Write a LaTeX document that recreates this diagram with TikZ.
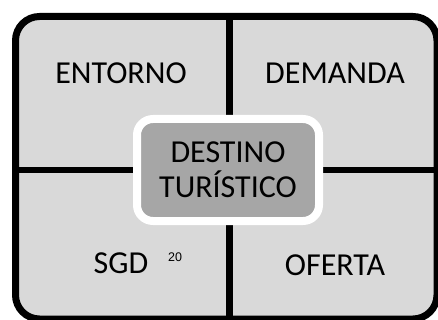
\documentclass[tikz,border=0pt]{standalone}
\usepackage{fontspec}
\setmainfont{Carlito}
\newfontfamily\smallsans{Liberation Sans}
\definecolor{cellgray}{HTML}{D9D9D9}
\definecolor{coregray}{HTML}{A6A6A6}
\tikzset{
  label/.style={font=\fontsize{32}{35}\selectfont, text=black, inner sep=0pt},
}
\begin{document}
\begin{tikzpicture}[x=1pt, y=-1pt]
        \useasboundingbox (0,0) rectangle (438,320);
        \draw[line width=7pt, fill=cellgray, rounded corners=24pt] (15.5,16.5) rectangle (437,319);
        \draw[line width=6.5pt] (229.5,16.5) -- (229.5,319);
        \draw[line width=6.5pt] (15.5,170) -- (437,170);
        \node[label] (entorno) at (121,73) {ENTORNO};
        \node[label] (demanda) at (335,73) {DEMANDA};
        \node[label] (sgd) at (121,263) {SGD};
        \node[label] (oferta) at (335,265) {OFERTA};
        \node[font=\smallsans\fontsize{12.5}{14}\selectfont, inner sep=0pt] (nota) at (175,257.5) {20};
        \draw[line width=8pt, draw=white, fill=coregray, rounded corners=16pt] (137,119) rectangle (319,221);
        \node[label, align=center] (destino) at (228,170) {DESTINO\\TURÍSTICO};
    \end{tikzpicture}
\end{document}
